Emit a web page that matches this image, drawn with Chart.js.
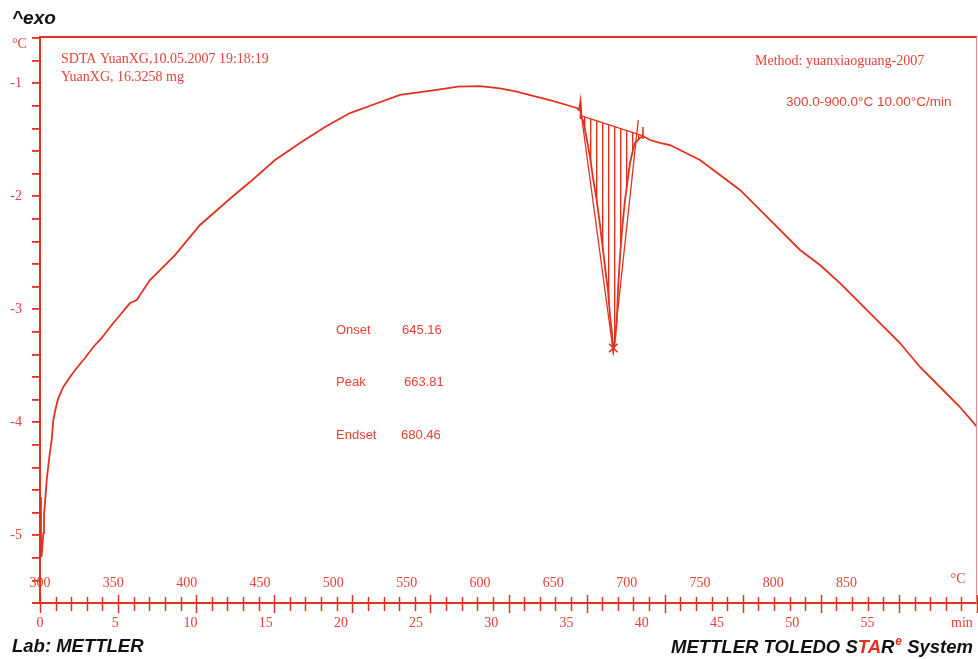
<!DOCTYPE html>
<html>
<head>
<meta charset="utf-8">
<script src="https://cdn.jsdelivr.net/npm/chart.js@4/dist/chart.umd.min.js"></script>
<style>
  html, body { margin: 0; padding: 0; background: #fff; }
  canvas { display: block; }
</style>
</head>
<body>
<canvas id="dtaChart" width="978" height="659"></canvas>
<script>
// SDTA signal (°C) against time (min)
var curveMin = [0.038, 0.064, 0.096, 0.160, 0.211, 0.256, 0.320, 0.429, 0.596, 0.749,
    0.852, 1.025, 1.172, 1.492, 1.921, 2.350, 2.881, 3.413, 3.951, 4.591,
    5.123, 5.763, 6.192, 6.615, 7.044, 7.684, 8.644, 10.245, 12.294, 13.447,
    15.048, 16.649, 18.249, 19.850, 21.451, 23.052, 24.121, 25.613, 26.766, 28.174,
    29.455, 30.525, 31.568, 32.657, 33.726, 34.366, 34.514, 34.610, 34.674, 34.770,
    35.026, 35.218, 35.410, 35.647, 35.858, 36.050, 36.242, 36.371, 36.499, 36.607,
    36.710, 36.787, 36.928, 37.011, 37.139, 37.267, 37.459, 37.651, 37.779, 37.971,
    38.099, 38.420, 38.612, 39.060, 39.700, 40.341, 40.981, 42.262, 43.542, 44.823,
    46.104, 47.384, 48.665, 49.946, 51.226, 52.507, 53.788, 55.068, 56.349, 57.629,
    58.910, 59.999];
var curveVal = [-4.662, -5.043, -5.193, -5.087, -4.981, -4.821, -4.715, -4.511, -4.308, -4.157,
    -3.980, -3.865, -3.786, -3.688, -3.600, -3.520, -3.431, -3.334, -3.254, -3.139,
    -3.051, -2.945, -2.918, -2.830, -2.741, -2.653, -2.520, -2.254, -2.006, -1.874,
    -1.679, -1.528, -1.387, -1.263, -1.183, -1.103, -1.083, -1.053, -1.030, -1.024,
    -1.044, -1.074, -1.112, -1.148, -1.192, -1.218, -1.236, -1.157, -1.307, -1.325,
    -1.502, -1.652, -1.838, -2.033, -2.254, -2.475, -2.697, -2.830, -3.051, -3.184,
    -3.361, -3.316, -3.122, -2.830, -2.537, -2.298, -2.033, -1.838, -1.705, -1.590,
    -1.528, -1.484, -1.466, -1.502, -1.528, -1.546, -1.590, -1.679, -1.812, -1.944,
    -2.121, -2.298, -2.475, -2.608, -2.768, -2.945, -3.122, -3.299, -3.511, -3.688,
    -3.865, -4.042];

// peak evaluation
var onsetMin = 34.674;
var endsetMin = 38.612;
var baselineMin = [34.674, 38.612];
var baselineVal = [-1.289, -1.466];
var tangentMin = [34.58, 36.71, 38.31];
var tangentVal = [-1.192, -3.378, -1.325];
var markerMin = [34.61, 36.71, 38.61];
var markerVal = [-1.245, -3.343, -1.440];

var resultNames = ['Onset', 'Peak', 'Endset'];
var resultValues = ['645.16', '663.81', '680.46'];

// axis labels
var minuteTicks = [0, 5, 10, 15, 20, 25, 30, 35, 40, 45, 50, 55];
var minuteUnitAt = 61.28;
var tempTicks = [300, 350, 400, 450, 500, 550, 600, 650, 700, 750, 800, 850];
var tempUnitAt = 926;

var red = '#e2311f';
var textRed = '#e64236';
var serif = '"Liberation Serif", "Times New Roman", serif';
var sans = '"Liberation Sans", Arial, sans-serif';

function pts(xs, ys) {
    return xs.map(function(x, i) { return { x: x, y: ys[i] }; });
}

var curvePts = pts(curveMin, curveVal);
var peakPts = curvePts.filter(function(p) { return p.x >= onsetMin && p.x <= endsetMin; });

// vertical hatching for the integrated peak area
var hatch = document.createElement('canvas');
hatch.width = 6;
hatch.height = 6;
var hctx = hatch.getContext('2d');
hctx.fillStyle = red;
hctx.fillRect(2, 0, 1.4, 6);
var hatchPattern = hctx.createPattern(hatch, 'repeat');

function txt(c, s, x, y, font, color, align) {
    c.font = font;
    c.fillStyle = color;
    c.textAlign = align || 'left';
    c.textBaseline = 'alphabetic';
    c.fillText(s, x, y);
}

function noSidePadding(s) {
    s.paddingLeft = 0;
    s.paddingRight = 0;
}

var decor = {
    id: 'decor',
    afterDraw: function(chart) {
        var c = chart.ctx;
        var a = chart.chartArea;
        var xs = chart.scales.x;
        var xt = chart.scales.xt;
        c.save();

        // frame
        c.strokeStyle = red;
        c.lineWidth = 2;
        c.beginPath();
        c.moveTo(a.left - 1, a.top);
        c.lineTo(a.right, a.top);
        c.stroke();
        c.strokeStyle = '#f08a80';
        c.lineWidth = 1;
        c.beginPath();
        c.moveTo(a.right - 0.5, a.top);
        c.lineTo(a.right - 0.5, a.bottom);
        c.stroke();

        // time axis: stub and crossing ticks
        c.strokeStyle = red;
        c.lineWidth = 2;
        c.beginPath();
        c.moveTo(a.left - 7, a.bottom);
        c.lineTo(a.left, a.bottom);
        c.stroke();
        c.lineWidth = 1.5;
        xs.ticks.forEach(function(t) {
            var px = Math.round(xs.getPixelForValue(t.value)) + 0.5;
            var major = t.value % 5 === 0;
            c.beginPath();
            c.moveTo(px, a.bottom - (major ? 8 : 6));
            c.lineTo(px, a.bottom + (major ? 10 : 8));
            c.stroke();
        });

        // temperature labels inside the frame
        tempTicks.forEach(function(t) {
            txt(c, String(t), xt.getPixelForValue(t), 587, '14px ' + serif, textRed, 'center');
        });
        txt(c, '°C', xt.getPixelForValue(tempUnitAt), 583, '14px ' + serif, textRed, 'center');
        txt(c, '°C', 12, 48, '14px ' + serif, textRed, 'left');

        // header notes
        txt(c, 'SDTA YuanXG,10.05.2007 19:18:19', 61, 63, '14px ' + serif, textRed);
        txt(c, 'YuanXG, 16.3258 mg', 61, 81, '14px ' + serif, textRed);
        txt(c, 'Method: yuanxiaoguang-2007', 755, 65, '14px ' + serif, textRed);
        txt(c, '300.0-900.0°C 10.00°C/min', 786, 106, '13.5px ' + sans, textRed);

        // peak results
        var rowY = [334, 386, 439];
        var valX = [402, 404, 401];
        resultNames.forEach(function(n, i) {
            txt(c, n, 336, rowY[i], '13px ' + sans, textRed);
            txt(c, resultValues[i], valX[i], rowY[i], '13px ' + sans, textRed);
        });

        // page captions
        txt(c, '^exo', 12, 24, 'italic bold 19px ' + sans, '#111');
        txt(c, 'Lab: METTLER', 12, 652, 'italic bold 18.5px ' + sans, '#111');

        var big = 'italic bold 18.5px ' + sans;
        var small = 'italic bold 12px ' + sans;
        var parts = [
            ['METTLER TOLEDO S', '#111', big, 0],
            ['TA', red, big, 0],
            ['R', '#111', big, 0],
            ['e', red, small, -8],
            [' System', '#111', big, 0]
        ];
        var total = 0;
        parts.forEach(function(p) { c.font = p[2]; total += c.measureText(p[0]).width + (p[3] ? 1 : 0); });
        var x = 973 - total;
        parts.forEach(function(p) {
            txt(c, p[0], x + (p[3] ? 1 : 0), 653 + p[3], p[2], p[1]);
            c.font = p[2];
            x += c.measureText(p[0]).width + (p[3] ? 1 : 0);
        });

        c.restore();
    }
};

var ctx = document.getElementById('dtaChart').getContext('2d');
var chart = new Chart(ctx, {
    type: 'line',
    data: {
        datasets: [{
            label: 'SDTA',
            data: curvePts,
            borderColor: red,
            borderWidth: 1.8,
            pointRadius: 0,
            fill: false,
            tension: 0
        }, {
            label: 'Baseline',
            data: pts(baselineMin, baselineVal),
            borderColor: red,
            borderWidth: 1.3,
            pointRadius: 0,
            fill: false
        }, {
            label: 'Peak area',
            data: peakPts,
            borderColor: red,
            borderWidth: 0,
            pointRadius: 0,
            backgroundColor: hatchPattern,
            fill: 1
        }, {
            label: 'Tangents',
            data: pts(tangentMin, tangentVal),
            borderColor: red,
            borderWidth: 1.3,
            pointRadius: 0,
            fill: false
        }, {
            label: 'Markers',
            data: pts(markerMin, markerVal),
            showLine: false,
            pointStyle: ['line', 'crossRot', 'line'],
            rotation: [90, 0, 90],
            pointRadius: [8, 6, 6],
            pointBorderColor: red,
            pointBorderWidth: 1.6,
            pointBackgroundColor: red
        }]
    },
    options: {
        responsive: false,
        animation: false,
        layout: { autoPadding: false, padding: { left: 0, right: 1, top: 37, bottom: 0 } },
        plugins: {
            legend: { display: false },
            tooltip: { enabled: false }
        },
        scales: {
            x: {
                type: 'linear',
                position: 'bottom',
                weight: 0,
                min: 0,
                max: 60,
                afterBuildTicks: function(s) {
                    var t = [];
                    for (var m = 0; m <= 60; m++) t.push({ value: m });
                    s.ticks = t;
                },
                afterFit: function(s) { s.height = 10; noSidePadding(s); },
                ticks: { display: false },
                grid: { display: false, drawTicks: false },
                border: { display: true, color: red, width: 2 }
            },
            xm: {
                type: 'linear',
                position: 'bottom',
                weight: 1,
                min: 0,
                max: 62.28,
                afterBuildTicks: function(s) {
                    var t = minuteTicks.map(function(v) { return { value: v }; });
                    t.push({ value: minuteUnitAt });
                    s.ticks = t;
                },
                afterFit: function(s) { s.height = 46; noSidePadding(s); },
                ticks: {
                    autoSkip: false,
                    maxRotation: 0,
                    padding: 2,
                    color: textRed,
                    font: { family: serif, size: 14 },
                    callback: function(v) { return v === minuteUnitAt ? 'min' : String(v); }
                },
                grid: { display: false, drawTicks: false },
                border: { display: false }
            },
            xt: {
                type: 'linear',
                position: 'bottom',
                weight: 2,
                display: false,
                min: 300,
                max: 938.9
            },
            y: {
                type: 'linear',
                position: 'left',
                min: -5.6,
                max: -0.59,
                afterBuildTicks: function(s) {
                    var t = [];
                    for (var v = -5.6; v <= -0.59; v += 0.2) t.push({ value: Math.round(v * 10) / 10 });
                    s.ticks = t;
                },
                afterFit: function(s) { s.width = 40; s.paddingTop = 0; s.paddingBottom = 0; },
                ticks: {
                    padding: 10,
                    color: textRed,
                    font: { family: serif, size: 14 },
                    callback: function(v) {
                        return Math.abs(v - Math.round(v)) < 1e-6 ? String(Math.round(v)) : '';
                    }
                },
                grid: { drawOnChartArea: false, drawTicks: true, tickLength: 8, color: red, lineWidth: 1.8 },
                border: { display: true, color: red, width: 2 }
            }
        }
    },
    plugins: [decor]
});
</script>
</body>
</html>
